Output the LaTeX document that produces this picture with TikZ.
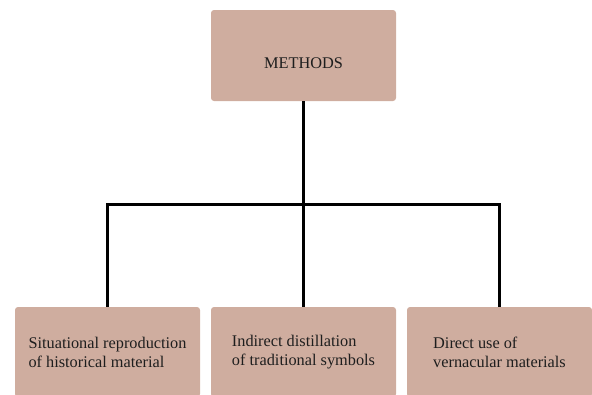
\documentclass[tikz,border=0pt]{standalone}
\usepackage{fontspec}
\setmainfont{Liberation Serif}
\usetikzlibrary{positioning}
\definecolor{boxfill}{RGB}{207,173,159}
\definecolor{boxtext}{RGB}{30,30,30}

\begin{document}
\begin{tikzpicture}[x=1pt, y=-1pt, node distance = 196pt,
    box/.style = {fill=boxfill, rounded corners=3pt, minimum width=185pt,
                  align=left, text=boxtext, font=\fontsize{16.3}{19}\selectfont},
    link/.style = {line width=3pt}]
\useasboundingbox (0,0) rectangle (592,394);

\node[box, minimum height=91pt, text height=25pt, text depth=0pt] (methods) at (303.5,55.5) {METHODS};
\node[box, minimum height=90pt] (distill) at (303.5,352) {Indirect distillation\\of traditional symbols};
\node[box, minimum height=90pt] (reprod) [left of = distill] {Situational reproduction\\of historical material};
\node[box, minimum height=90pt] (vernac) [right of = distill] {Direct use of\\vernacular materials};
\coordinate (bar) at (303.5,204.5);

\draw[link] (methods.south) -- (distill.north);
\draw[link] (reprod.north) |- (bar) -| (vernac.north);
\end{tikzpicture}
\end{document}
